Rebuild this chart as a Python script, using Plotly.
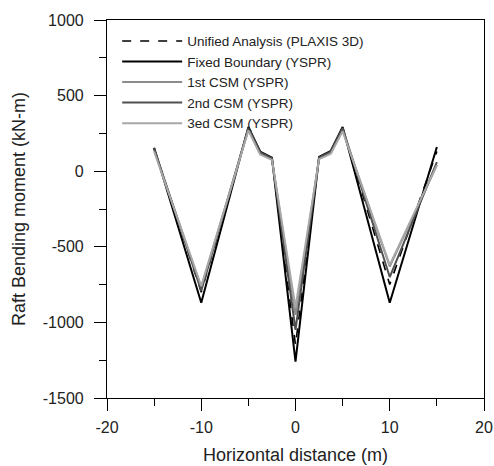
import plotly.graph_objects as go

x_pos = [-15, -10, -5, -3.75, -2.5, 0, 2.5, 3.75, 5, 10, 15]
unified = [150, -800, 285, 125, 85, -1150, 90, 130, 285, -750, 130]
fixed = [155, -870, 292, 130, 90, -1260, 95, 135, 292, -870, 160]
csm1 = [140, -770, 275, 115, 80, -950, 85, 120, 270, -630, 40]
csm2 = [150, -790, 285, 125, 85, -1050, 90, 130, 285, -700, 60]
csm3 = [130, -760, 270, 110, 75, -900, 80, 115, 265, -620, 40]

x_ticks = [-20, -10, 0, 10, 20]
x_labels = ["-20", "-10", "0", "10", "20"]
y_ticks = [-1500, -1000, -500, 0, 500, 1000]
y_labels = ["-1500", "-1000", "-500", "0", "500", "1000"]

series = [
    ("Unified Analysis (PLAXIS 3D)", unified, "#000000", "dash", 1.6),
    ("Fixed Boundary (YSPR)", fixed, "#000000", "solid", 2.0),
    ("1st CSM (YSPR)", csm1, "#8c8c8c", "solid", 2.0),
    ("2nd CSM (YSPR)", csm2, "#505050", "solid", 2.0),
    ("3ed CSM (YSPR)", csm3, "#a8a8a8", "solid", 2.0),
]

fig = go.Figure()
for name, y, c, d, w in series:
    fig.add_trace(go.Scatter(x=x_pos, y=y, mode="lines", name=name,
                             line=dict(color=c, dash=d, width=w)))

axis_common = dict(showgrid=False, zeroline=False, showline=True, linecolor="black",
                   linewidth=1.2, mirror=True, ticks="outside", ticklen=12,
                   tickcolor="black", tickwidth=1.2, automargin=False,
                   tickfont=dict(family="Liberation Sans, Arial", size=16, color="#222"))
minor_common = dict(ticks="outside", ticklen=7, tickcolor="black", tickwidth=1.2)

fig.update_layout(
    width=494, height=466,
    margin=dict(l=107, r=10, t=20, b=68),
    paper_bgcolor="white", plot_bgcolor="white",
    font=dict(family="Liberation Sans, Arial", size=13, color="#222"),
    legend=dict(x=0.027, y=0.985, xanchor="left", yanchor="top",
                bgcolor="rgba(0,0,0,0)", font=dict(size=13.5), itemwidth=60,
                tracegroupgap=0),
    xaxis=dict(range=[-20, 20], tickvals=x_ticks, ticktext=x_labels,
               ticklabelstandoff=3,
               minor=dict(tickvals=[-15, -5, 5, 15], **minor_common),
               title=dict(text="Horizontal distance (m)", font=dict(size=18), standoff=13),
               **axis_common),
    yaxis=dict(range=[-1500, 1000], tickvals=y_ticks, ticktext=y_labels,
               ticklabelstandoff=7,
               minor=dict(tickvals=[-1250, -750, -250, 250, 750], **minor_common),
               title=dict(text="Raft Bending moment (kN-m)", font=dict(size=18), standoff=12),
               **axis_common),
)

fig.write_html("out.html", config={"displayModeBar": False},
               post_script="document.body.style.margin='0px';")
